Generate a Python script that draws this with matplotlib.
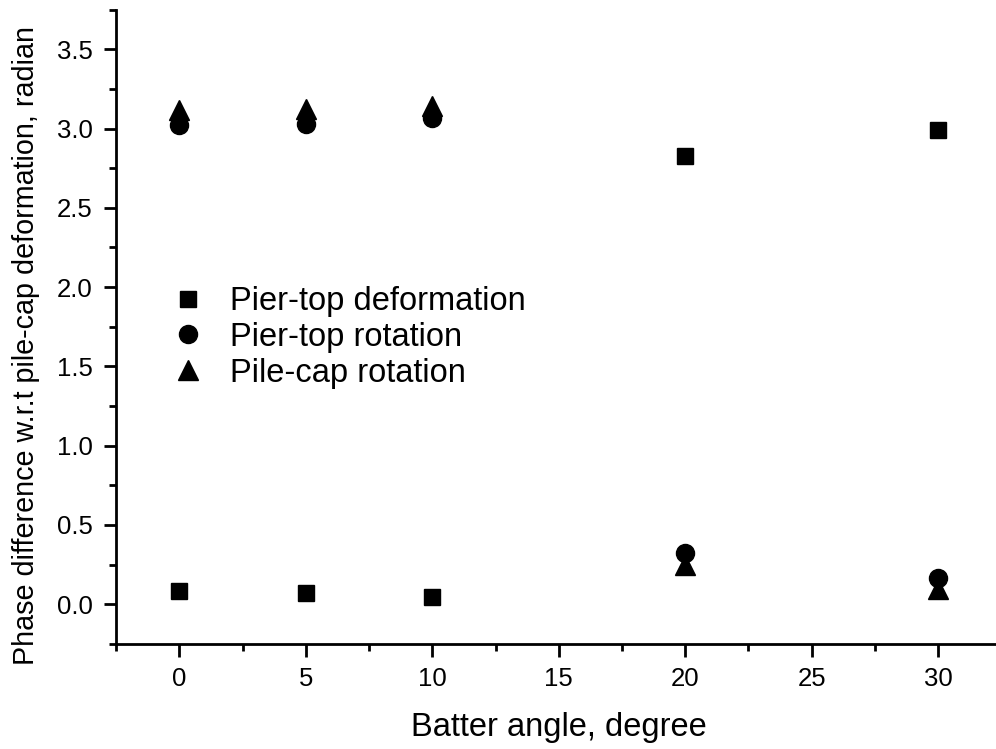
import matplotlib
matplotlib.use("Agg")
import matplotlib.pyplot as plt
from matplotlib.ticker import MultipleLocator

plt.rcParams['font.family'] = ['Liberation Sans', 'DejaVu Sans']

batter_angle = [0, 5, 10, 20, 30]
pier_top_deformation = [0.085, 0.07, 0.045, 2.83, 2.99]
pier_top_rotation = [3.02, 3.03, 3.07, 0.32, 0.165]
pile_cap_rotation = [3.115, 3.125, 3.145, 0.25, 0.095]

fig = plt.figure(figsize=(9.96, 7.49), dpi=100)
ax = fig.add_axes([0.1165, 0.1405, 0.889, 0.8465])

ax.plot(batter_angle, pier_top_deformation, 's', color='black', markersize=11, label='Pier-top deformation')
ax.plot(batter_angle, pier_top_rotation, 'o', color='black', markersize=13, label='Pier-top rotation')
ax.plot(batter_angle, pile_cap_rotation, '^', color='black', markersize=14, label='Pile-cap rotation')

ax.set_xlim(-2.5, 32.5)
ax.set_ylim(-0.25, 3.75)
ax.xaxis.set_major_locator(MultipleLocator(5))
ax.xaxis.set_minor_locator(MultipleLocator(2.5))
ax.yaxis.set_major_locator(MultipleLocator(0.5))
ax.yaxis.set_minor_locator(MultipleLocator(0.25))
ax.yaxis.set_major_formatter(plt.FormatStrFormatter('%.1f'))

for s in ['top', 'right']:
    ax.spines[s].set_visible(False)
for s in ['left', 'bottom']:
    ax.spines[s].set_linewidth(2)
ax.tick_params(which='major', direction='out', length=9, width=2, labelsize=18.5, pad=8)
ax.tick_params(which='minor', direction='out', length=5, width=2)

ax.set_xlabel('Batter angle, degree', fontsize=23.5, labelpad=15)
ax.set_ylabel('Phase difference w.r.t pile-cap deformation, radian', fontsize=20.7)
ax.yaxis.set_label_coords(-0.086, 0.471)

ax.legend(loc='upper left', bbox_to_anchor=(0.044, 0.59), frameon=False, fontsize=23.5,
          handletextpad=0.8, labelspacing=0.15, borderpad=0, handlelength=1.0)

fig.savefig('out.png', dpi=100)
